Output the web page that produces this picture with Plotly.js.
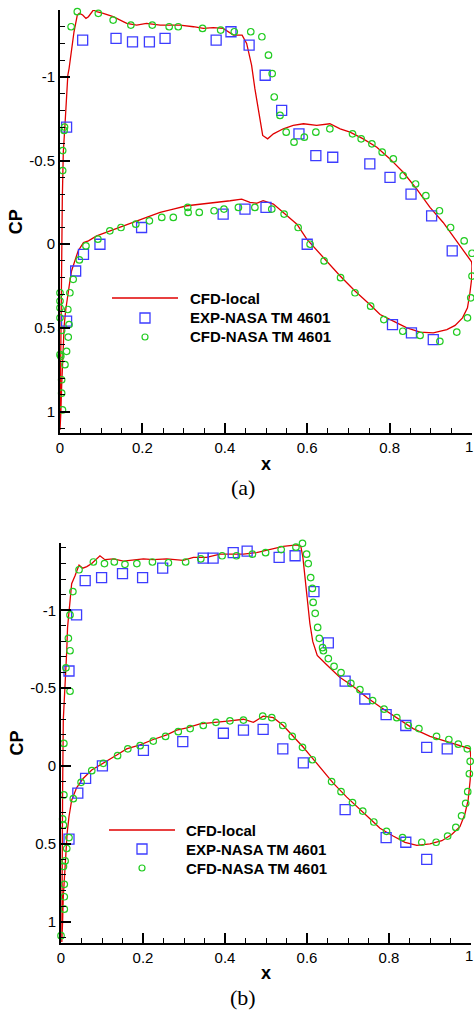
<!DOCTYPE html>
<html>
<head>
<meta charset="utf-8">
<script src="https://cdn.plot.ly/plotly-3.0.1.min.js"></script>
<style>
html,body{margin:0;padding:0;background:#fff;}
#chart{width:474px;height:1012px;}
</style>
</head>
<body>
<div id="chart"></div>
<script>
// ---------- Panel (a) ----------
const aLineX = [0,0.001,0.002,0.004,0.0056,0.008,0.012,0.016,0.019,0.022,0.027,0.034,0.042,0.047,0.055,0.063,0.069,0.075,0.081,0.089,0.105,0.129,0.162,0.186,0.210,0.243,0.291,0.324,0.348,0.372,0.396,0.421,0.442,0.453,0.465,0.473,0.484,0.492,0.504,0.518,0.542,0.566,0.591,0.623,0.655,0.680,0.704,0.736,0.769,0.801,0.833,0.866,0.898,0.930,0.971,0.999,1.0,0.999,0.995,0.989,0.977,0.959,0.939,0.906,0.874,0.842,0.809,0.777,0.752,0.716,0.680,0.639,0.599,0.583,0.575,0.542,0.518,0.493,0.477,0.461,0.441,0.413,0.372,0.340,0.308,0.275,0.243,0.210,0.178,0.146,0.113,0.089,0.069,0.057,0.044,0.036,0.028,0.024,0.018,0.014,0.010,0.008,0.006,0.004,0.002,0];
const aLineCP = [1.11,0.93,0.53,0.13,-0.27,-0.55,-0.71,-0.87,-1.01,-1.05,-1.15,-1.27,-1.37,-1.38,-1.37,-1.35,-1.36,-1.38,-1.40,-1.39,-1.38,-1.36,-1.32,-1.31,-1.32,-1.31,-1.31,-1.30,-1.29,-1.295,-1.29,-1.25,-1.25,-1.20,-1.07,-0.93,-0.77,-0.65,-0.63,-0.66,-0.69,-0.71,-0.72,-0.71,-0.72,-0.69,-0.67,-0.63,-0.58,-0.51,-0.43,-0.33,-0.22,-0.13,0.01,0.105,0.13,0.21,0.29,0.38,0.44,0.485,0.51,0.53,0.525,0.50,0.46,0.42,0.36,0.28,0.19,0.08,-0.03,-0.09,-0.12,-0.19,-0.24,-0.26,-0.245,-0.25,-0.27,-0.26,-0.25,-0.24,-0.23,-0.21,-0.19,-0.16,-0.13,-0.10,-0.07,-0.05,-0.02,-0.01,0.04,0.10,0.16,0.22,0.31,0.39,0.49,0.59,0.73,0.85,1.01,1.11];

const aExpX = [0.016,0.055,0.136,0.176,0.217,0.255,0.379,0.415,0.459,0.498,0.538,0.580,0.621,0.662,0.752,0.801,0.852,0.902,0.952,0.016,0.038,0.057,0.097,0.198,0.396,0.449,0.500,0.600,0.807,0.853,0.906];
const aExpCP = [-0.70,-1.22,-1.23,-1.21,-1.21,-1.23,-1.22,-1.27,-1.19,-1.01,-0.80,-0.66,-0.53,-0.52,-0.48,-0.40,-0.30,-0.17,0.04,0.46,0.16,0.06,0.00,-0.10,-0.18,-0.21,-0.22,0.00,0.48,0.53,0.57];

const aCfdX = [0.0065,0.0065,0.010,0.011,0.027,0.042,0.093,0.129,0.172,0.224,0.265,0.287,0.346,0.390,0.423,0.463,0.490,0.506,0.515,0.520,0.534,0.549,0.568,0.593,0.621,0.655,0.710,0.731,0.757,0.782,0.809,0.833,0.863,0.888,0.921,0.948,0.981,1.0,1.0,0.997,0.989,0.963,0.922,0.874,0.832,0.786,0.754,0.716,0.681,0.641,0.607,0.578,0.544,0.514,0.473,0.433,0.398,0.374,0.338,0.311,0.310,0.275,0.247,0.217,0.184,0.148,0.121,0.092,0.063,0.047,0.032,0.024,0.0,0.0,0.0,0.019,0.0,0.022,0.004,0.020,0.016,0.0,0.002,0.012,0.004,0.004,0.006];
const aCfdCP = [-0.44,-0.56,-0.68,-0.70,-1.30,-1.39,-1.38,-1.34,-1.31,-1.31,-1.30,-1.30,-1.29,-1.28,-1.27,-1.27,-1.24,-1.13,-1.02,-0.88,-0.77,-0.67,-0.61,-0.64,-0.67,-0.69,-0.66,-0.63,-0.60,-0.55,-0.51,-0.41,-0.36,-0.29,-0.20,-0.10,-0.02,0.054,0.19,0.32,0.44,0.525,0.58,0.545,0.52,0.45,0.37,0.29,0.20,0.10,0.00,-0.10,-0.18,-0.21,-0.22,-0.22,-0.21,-0.20,-0.19,-0.19,-0.22,-0.16,-0.16,-0.14,-0.12,-0.10,-0.08,-0.03,0.01,0.094,0.21,0.29,0.29,0.34,0.38,0.39,0.44,0.48,0.515,0.555,0.64,0.66,0.67,0.72,0.81,0.89,0.99];

// ---------- Panel (b) ----------
const bLineX = [0.002,0.0024,0.004,0.0056,0.007,0.011,0.014,0.016,0.0195,0.022,0.026,0.034,0.044,0.053,0.063,0.075,0.087,0.095,0.107,0.128,0.152,0.176,0.201,0.225,0.258,0.298,0.323,0.355,0.388,0.420,0.445,0.477,0.510,0.542,0.575,0.585,0.590,0.595,0.601,0.607,0.614,0.625,0.648,0.680,0.713,0.746,0.778,0.819,0.859,0.900,0.941,0.998,1.0,0.998,0.993,0.985,0.973,0.953,0.929,0.900,0.868,0.839,0.810,0.778,0.762,0.729,0.697,0.664,0.632,0.607,0.591,0.567,0.542,0.518,0.493,0.469,0.445,0.412,0.371,0.339,0.307,0.282,0.258,0.225,0.193,0.160,0.136,0.103,0.075,0.054,0.038,0.026,0.0195,0.015,0.012,0.010,0.0056,0.004,0.002];
const bLineCP = [1.13,0.56,0.13,-0.295,-0.36,-0.57,-0.74,-0.89,-1.00,-1.085,-1.17,-1.22,-1.29,-1.27,-1.28,-1.30,-1.33,-1.35,-1.325,-1.33,-1.315,-1.32,-1.33,-1.325,-1.33,-1.32,-1.34,-1.34,-1.36,-1.36,-1.36,-1.37,-1.39,-1.41,-1.42,-1.41,-1.34,-1.21,-1.06,-0.915,-0.80,-0.71,-0.65,-0.57,-0.51,-0.44,-0.38,-0.31,-0.24,-0.19,-0.156,-0.11,-0.04,0.09,0.22,0.31,0.39,0.44,0.48,0.50,0.51,0.49,0.45,0.40,0.36,0.28,0.20,0.11,0.005,-0.07,-0.12,-0.19,-0.26,-0.31,-0.32,-0.28,-0.30,-0.29,-0.28,-0.27,-0.245,-0.23,-0.20,-0.17,-0.135,-0.11,-0.07,-0.017,0.026,0.08,0.14,0.22,0.325,0.43,0.56,0.69,0.84,0.99,1.13];

const bExpX = [0.0195,0.038,0.059,0.099,0.150,0.199,0.248,0.347,0.371,0.420,0.454,0.532,0.571,0.617,0.652,0.693,0.741,0.793,0.841,0.892,0.942,0.0195,0.041,0.060,0.101,0.201,0.297,0.396,0.445,0.493,0.541,0.591,0.693,0.793,0.841,0.892];
const bExpCP = [-0.61,-0.97,-1.19,-1.21,-1.235,-1.21,-1.27,-1.335,-1.335,-1.37,-1.38,-1.34,-1.35,-1.12,-0.79,-0.545,-0.43,-0.33,-0.26,-0.12,-0.11,0.47,0.175,0.08,0.00,-0.10,-0.156,-0.21,-0.23,-0.235,-0.11,-0.02,0.28,0.46,0.49,0.60];

const bCfdX = [0.007,0.022,0.012,0.022,0.018,0.022,0.029,0.044,0.079,0.106,0.130,0.156,0.185,0.223,0.262,0.304,0.341,0.393,0.428,0.467,0.499,0.537,0.573,0.589,0.599,0.603,0.609,0.613,0.615,0.620,0.626,0.630,0.638,0.640,0.652,0.666,0.683,0.707,0.729,0.760,0.788,0.819,0.847,0.873,0.916,0.946,0.969,0.991,0.998,0.996,0.992,0.987,0.977,0.963,0.943,0.915,0.880,0.833,0.794,0.763,0.736,0.711,0.683,0.660,0.613,0.589,0.564,0.541,0.514,0.492,0.445,0.412,0.378,0.347,0.315,0.286,0.255,0.225,0.193,0.163,0.138,0.103,0.075,0.049,0.030,0.007,0.004,0.006,0.0195,0.014,0.010,0.006,0.008,0.008,0.008,0.0];
const bCfdCP = [-0.145,-0.48,-0.63,-0.74,-0.82,-0.97,-1.12,-1.26,-1.31,-1.30,-1.31,-1.295,-1.30,-1.31,-1.305,-1.31,-1.33,-1.35,-1.35,-1.36,-1.37,-1.39,-1.405,-1.43,-1.36,-1.30,-1.21,-1.14,-1.05,-0.98,-0.89,-0.82,-0.76,-0.74,-0.69,-0.64,-0.60,-0.53,-0.49,-0.42,-0.365,-0.31,-0.26,-0.24,-0.19,-0.17,-0.14,-0.11,-0.03,0.05,0.165,0.24,0.32,0.395,0.45,0.49,0.49,0.46,0.42,0.36,0.29,0.235,0.165,0.10,-0.04,-0.12,-0.19,-0.26,-0.31,-0.32,-0.295,-0.29,-0.28,-0.26,-0.24,-0.22,-0.19,-0.16,-0.13,-0.11,-0.066,-0.017,0.03,0.105,0.21,0.186,0.34,0.38,0.46,0.53,0.61,0.645,0.76,0.84,0.92,1.09];

// ---------- Labels / ticks ----------
const seriesNames = ['CFD-local', 'EXP-NASA TM 4601', 'CFD-NASA TM 4601'];
const xTickVals = [0, 0.2, 0.4, 0.6, 0.8, 1];
const xTickText = ['0', '0.2', '0.4', '0.6', '0.8', ''];   // last label ("1") drawn at the page edge below
const xEndLabel = '1';
const yTickVals = [-1, -0.5, 0, 0.5, 1];
const yTickText = ['-1', '-0.5', '0', '0.5', '1'];
const xTitle = 'x';
const yTitle = 'CP';
const captions = ['(a)', '(b)'];

// ---------- Styles ----------
const W = 474, H = 1012;
const RED = '#e00000', BLUE = '#3c3cff', GREEN = '#22cc22';
const px = v => v / W;
const py = v => 1 - v / H;

function lineTrace(x, y, xa, ya) {
  return {x, y, xaxis: xa, yaxis: ya, type: 'scatter', mode: 'lines', name: seriesNames[0],
    line: {color: RED, width: 1.3}, cliponaxis: false, showlegend: false};
}
function sqTrace(x, y, xa, ya) {
  return {x, y, xaxis: xa, yaxis: ya, type: 'scatter', mode: 'markers', name: seriesNames[1],
    marker: {symbol: 'square-open', size: 10, color: BLUE, line: {color: BLUE, width: 1.3}},
    cliponaxis: false, showlegend: false};
}
function ciTrace(x, y, xa, ya) {
  return {x, y, xaxis: xa, yaxis: ya, type: 'scatter', mode: 'markers', name: seriesNames[2],
    marker: {symbol: 'circle-open', size: 6.5, color: GREEN, line: {color: GREEN, width: 1.2}},
    cliponaxis: false, showlegend: false};
}

const data = [
  lineTrace(aLineX, aLineCP, 'x', 'y'),
  sqTrace(aExpX, aExpCP, 'x', 'y'),
  ciTrace(aCfdX, aCfdCP, 'x', 'y'),
  lineTrace(bLineX, bLineCP, 'x2', 'y2'),
  sqTrace(bExpX, bExpCP, 'x2', 'y2'),
  ciTrace(bCfdX, bCfdCP, 'x2', 'y2')
];

const tickFont = {family: 'Liberation Sans, Arial, sans-serif', size: 15, color: '#000'};
const titleFont = {family: 'Liberation Sans, Arial, sans-serif', size: 18, color: '#000', weight: 'bold'};

function xAxis(domain, anchor) {
  return {domain, anchor, range: [0, 1], showgrid: false, zeroline: false,
    showline: true, linecolor: '#000', linewidth: 2,
    ticks: 'inside', ticklen: 10, tickwidth: 2, tickcolor: '#000',
    tickmode: 'array', tickvals: xTickVals, ticktext: xTickText, tickfont: tickFont,
    minor: {tickmode: 'linear', tick0: 0, dtick: 0.05, ticks: 'inside', ticklen: 5, tickwidth: 1, tickcolor: '#000', showgrid: false},
    title: {text: '<b>' + xTitle + '</b>', font: titleFont, standoff: 2}};
}
function yAxis(domain, anchor, range) {
  return {domain, anchor, range, showgrid: false, zeroline: false,
    showline: true, linecolor: '#000', linewidth: 2,
    ticks: 'inside', ticklen: 10, tickwidth: 2, tickcolor: '#000',
    tickmode: 'array', tickvals: yTickVals, ticktext: yTickText, tickfont: tickFont,
    ticklabeloverflow: 'allow',
    minor: {tickmode: 'linear', tick0: 0, dtick: 0.1, ticks: 'inside', ticklen: 5, tickwidth: 1, tickcolor: '#000', showgrid: false},
    title: {text: '<b>' + yTitle + '</b>', font: titleFont, standoff: 2}};
}

function legendShapes(lx0, lx1, ly, mx, sy, cy) {
  return [
    {type: 'line', xref: 'paper', yref: 'paper', x0: px(lx0), x1: px(lx1), y0: py(ly), y1: py(ly), line: {color: RED, width: 1.3}},
    {type: 'rect', xref: 'paper', yref: 'paper', xsizemode: 'pixel', ysizemode: 'pixel',
      xanchor: px(mx), yanchor: py(sy), x0: -5, x1: 5, y0: -5, y1: 5, line: {color: BLUE, width: 1.3}},
    {type: 'circle', xref: 'paper', yref: 'paper', xsizemode: 'pixel', ysizemode: 'pixel',
      xanchor: px(mx), yanchor: py(cy), x0: -3, x1: 3, y0: -3, y1: 3, line: {color: GREEN, width: 1.2}}
  ];
}
const legFont = {family: 'Liberation Sans, Arial, sans-serif', size: 15, color: '#000', weight: 'bold'};
function legendTexts(tx, ys) {
  return seriesNames.map((t, i) => ({text: '<b>' + t + '</b>', xref: 'paper', yref: 'paper',
    x: px(tx), y: py(ys[i]), xanchor: 'left', yanchor: 'middle', showarrow: false, font: legFont}));
}
const capFont = {family: 'Liberation Serif, Times New Roman, serif', size: 22, color: '#000'};
function endLabel(yPix) {
  return {text: xEndLabel, xref: 'paper', yref: 'paper', x: 1, y: py(yPix), xanchor: 'right', yanchor: 'middle',
    showarrow: false, font: tickFont, borderpad: 0};
}

const layout = {
  width: W, height: H,
  margin: {l: 0, r: 0, t: 0, b: 0},
  paper_bgcolor: '#fff', plot_bgcolor: '#fff',
  showlegend: false,
  xaxis: xAxis([px(60), px(472)], 'y'),
  yaxis: yAxis([py(433.3), py(10)], 'x', [1.13, -1.4]),
  xaxis2: xAxis([px(61), px(471)], 'y2'),
  yaxis2: yAxis([py(942.7), py(543.3)], 'x2', [1.135, -1.43]),
  shapes: [].concat(legendShapes(112, 178, 298, 145, 318, 337), legendShapes(109, 175, 830, 142, 849, 868)),
  annotations: [].concat(
    legendTexts(188, [298, 318, 337]),
    legendTexts(184, [830, 849, 868]),
    [endLabel(446), endLabel(955.5)],
    [{text: captions[0], xref: 'paper', yref: 'paper', x: px(243), y: py(487), xanchor: 'center', yanchor: 'middle', showarrow: false, font: capFont},
     {text: captions[1], xref: 'paper', yref: 'paper', x: px(243), y: py(997), xanchor: 'center', yanchor: 'middle', showarrow: false, font: capFont}]
  )
};

Plotly.newPlot('chart', data, layout, {staticPlot: true, displayModeBar: false});
</script>
</body>
</html>
